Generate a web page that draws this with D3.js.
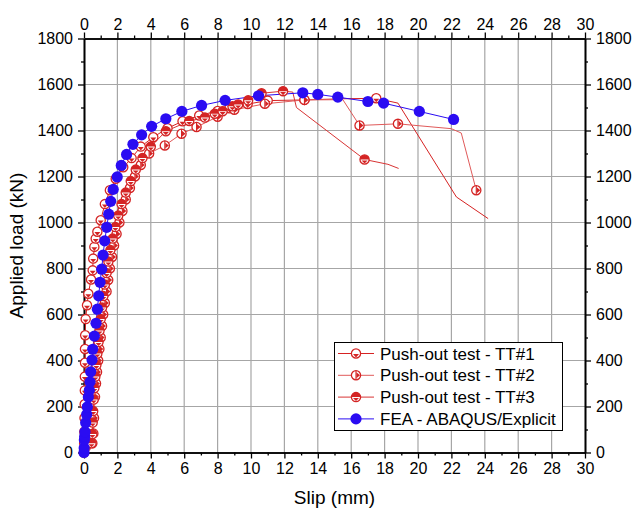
<!DOCTYPE html>
<html>
<head>
<meta charset="utf-8">
<script src="https://cdn.jsdelivr.net/npm/d3@7"></script>
<style>
  body { margin: 0; background: #fff; }
  svg { display: block; font-family: Arial, "Liberation Sans", sans-serif; }
</style>
</head>
<body>
<svg id="chart" width="638" height="513"></svg>
<script>
(() => {
    // tick values
    const slipTicks = [0, 2, 4, 6, 8, 10, 12, 14, 16, 18, 20, 22, 24, 26, 28, 30];
    const slipMinor = [1, 3, 5, 7, 9, 11, 13, 15, 17, 19, 21, 23, 25, 27, 29];
    const loadTicks = [0, 200, 400, 600, 800, 1000, 1200, 1400, 1600, 1800];
    const loadMinor = [100, 300, 500, 700, 900, 1100, 1300, 1500, 1700];

    // FEA - ABAQUS/Explicit
    const feaSlip = [0, 0.01, 0.02, 0.04, 0.06, 0.1, 0.16, 0.2, 0.26, 0.32, 0.36, 0.4, 0.48, 0.52, 0.62, 0.72, 0.8, 0.88, 0.96, 1.06, 1.14, 1.24, 1.36, 1.48, 1.6, 1.75, 1.99, 2.23, 2.55, 2.93, 3.45, 4.05, 4.9, 5.86, 7.04, 8.45, 10.45, 13.1, 14.0, 15.2, 17.0, 17.94, 20.08, 22.13];
    const feaLoad = [0, 20, 54, 70, 90, 129, 165, 198, 241, 271, 307, 351, 402, 449, 506, 562, 623, 681, 740, 797, 858, 920, 979, 1036, 1092, 1144, 1198, 1248, 1296, 1340, 1381, 1418, 1451, 1483, 1509, 1531, 1551, 1564, 1557, 1545, 1526, 1519, 1483, 1448];

    // Push-out test - TT#1
    const tt1Slip = [0, 0.01, 0.02, 0.03, 0.04, 0.05, 0.05, 0.06, 0.06, 0.07, 0.1, 0.18, 0.26, 0.42, 0.52, 0.55, 0.62, 0.7, 0.8, 1.0, 1.25, 1.55, 1.9, 2.35, 2.85, 3.4, 4.15, 5.0, 5.9, 6.9, 8.0, 8.7, 9.8, 11.0, 13.2, 15.5, 17.5, 18.8, 22.3, 24.2];
    const tt1Load = [0, 40, 90, 150, 210, 270, 330, 390, 450, 510, 580, 640, 690, 752, 792, 843, 894, 930, 960, 1010, 1080, 1140, 1190, 1240, 1280, 1330, 1371, 1410, 1440, 1465, 1485, 1497, 1515, 1530, 1533, 1538, 1540, 1519, 1111, 1017];
    const tt1Mark = [1, 1, 1, 1, 1, 1, 1, 1, 1, 1, 1, 1, 1, 1, 1, 1, 1, 1, 1, 1, 1, 1, 1, 1, 1, 1, 1, 1, 1, 1, 1, 1, 1, 1, 1, 0, 1, 0, 0, 0];

    // Push-out test - TT#2
    const tt2Slip = [0, 0.35, 0.5, 0.56, 0.6, 0.66, 0.72, 0.78, 0.85, 0.92, 1.0, 1.08, 1.15, 1.25, 1.35, 1.45, 1.55, 1.68, 1.8, 1.95, 2.12, 2.3, 2.5, 2.75, 3.05, 3.4, 3.9, 4.84, 5.84, 6.74, 8.0, 9.0, 10.83, 12.5, 13.2, 15.5, 16.5, 18.8, 21.99, 22.59, 23.49];
    const tt2Load = [0, 10, 40, 83, 150, 242, 300, 350, 400, 450, 500, 550, 600, 650, 700, 750, 800, 850, 900, 950, 1000, 1050, 1100, 1150, 1200, 1250, 1300, 1335, 1386, 1415, 1460, 1490, 1516, 1528, 1533, 1534, 1422, 1429, 1408, 1389, 1140];
    const tt2Mark = [0, 0, 1, 1, 1, 1, 1, 1, 1, 1, 1, 1, 1, 1, 1, 1, 1, 1, 1, 1, 1, 1, 1, 1, 1, 1, 1, 1, 1, 1, 1, 1, 1, 0, 1, 0, 1, 1, 0, 0, 1];

    // Push-out test - TT#3
    const tt3Slip = [0, 0.3, 0.45, 0.5, 0.52, 0.55, 0.58, 0.62, 0.68, 0.74, 0.8, 0.87, 0.93, 1.0, 1.08, 1.16, 1.25, 1.35, 1.46, 1.58, 1.72, 1.88, 2.05, 2.25, 2.5, 2.8, 3.1, 3.5, 4.0, 4.9, 6.3, 7.24, 7.83, 8.3, 8.89, 9.23, 9.83, 10.63, 11.92, 12.5, 12.72, 16.8, 18.2, 18.84];
    const tt3Load = [0, 10, 40, 80, 130, 180, 230, 280, 330, 380, 430, 480, 530, 580, 630, 680, 730, 780, 830, 880, 930, 980, 1030, 1080, 1130, 1180, 1230, 1280, 1330, 1397, 1441, 1456, 1473, 1484, 1505, 1513, 1531, 1562, 1571, 1567, 1500, 1274, 1253, 1235];
    const tt3Mark = [0, 0, 1, 1, 1, 1, 1, 1, 1, 1, 1, 1, 1, 1, 1, 1, 1, 1, 1, 1, 1, 1, 1, 1, 1, 1, 1, 1, 1, 1, 1, 1, 1, 1, 1, 1, 1, 1, 1, 0, 0, 1, 0, 0];

    const legendLabels = ["Push-out test - TT#1", "Push-out test - TT#2", "Push-out test - TT#3", "FEA - ABAQUS/Explicit"];

    const red = "#d42424";
    const blue = "#2a0cf2";

    const svg = d3.select("#chart");
    const margin = { top: 38.5, right: 53, bottom: 60.5, left: 84 };
    const W = 638, H = 513;
    const x = d3.scaleLinear().domain([0, 30]).range([margin.left, W - margin.right]);
    const y = d3.scaleLinear().domain([0, 1800]).range([H - margin.bottom, margin.top]);
    const fmt = d3.format("d");

    // grid
    const grid = svg.append("g").attr("stroke", "#a6a6a6").attr("stroke-width", 1.2);
    slipTicks.slice(1, -1).forEach(v => {
        grid.append("line").attr("x1", x(v)).attr("x2", x(v)).attr("y1", y(0)).attr("y2", y(1800));
    });
    loadTicks.slice(1, -1).forEach(v => {
        grid.append("line").attr("x1", x(0)).attr("x2", x(30)).attr("y1", y(v)).attr("y2", y(v));
    });

    // axes
    function styleAxis(g) {
        g.select(".domain").attr("stroke-width", 1.6);
        g.selectAll(".tick line").attr("stroke-width", 1.3);
        g.selectAll("text").attr("font-size", 16).attr("fill", "#000")
            .attr("font-family", "Arial, 'Liberation Sans', sans-serif");
    }
    const yb = y(0), yt = y(1800);
    svg.append("g").attr("transform", `translate(0,${yb})`)
        .call(d3.axisBottom(x).tickValues(slipTicks).tickFormat(fmt).tickSize(6).tickPadding(4).tickSizeOuter(0)).call(styleAxis);
    svg.append("g").attr("transform", `translate(0,${yb})`)
        .call(d3.axisBottom(x).tickValues(slipMinor).tickSize(3).tickFormat("").tickSizeOuter(0)).call(styleAxis);
    svg.append("g").attr("transform", `translate(0,${yt})`)
        .call(d3.axisTop(x).tickValues(slipTicks).tickFormat(fmt).tickSize(6).tickPadding(3).tickSizeOuter(0)).call(styleAxis);
    svg.append("g").attr("transform", `translate(0,${yt})`)
        .call(d3.axisTop(x).tickValues(slipMinor).tickSize(3).tickFormat("").tickSizeOuter(0)).call(styleAxis);
    svg.append("g").attr("transform", `translate(${x(0)},0)`)
        .call(d3.axisLeft(y).tickValues(loadTicks).tickFormat(fmt).tickSize(6).tickPadding(5).tickSizeOuter(0)).call(styleAxis);
    svg.append("g").attr("transform", `translate(${x(0)},0)`)
        .call(d3.axisLeft(y).tickValues(loadMinor).tickSize(3).tickFormat("").tickSizeOuter(0)).call(styleAxis);
    svg.append("g").attr("transform", `translate(${x(30)},0)`)
        .call(d3.axisRight(y).tickValues(loadTicks).tickFormat(fmt).tickSize(6).tickPadding(5).tickSizeOuter(0)).call(styleAxis);
    svg.append("g").attr("transform", `translate(${x(30)},0)`)
        .call(d3.axisRight(y).tickValues(loadMinor).tickSize(3).tickFormat("").tickSizeOuter(0)).call(styleAxis);

    // axis titles
    svg.append("text").attr("x", (x(0) + x(30)) / 2).attr("y", 504)
        .attr("text-anchor", "middle").attr("font-size", 19).text("Slip (mm)");
    svg.append("text").attr("transform", `translate(23,${(y(0) + y(1800)) / 2}) rotate(-90)`)
        .attr("text-anchor", "middle").attr("font-size", 19).text("Applied load (kN)");

    // markers
    const R = 4.6;
    function marker(g, type) {
        if (type === "fea") {
            g.append("circle").attr("r", 5.6).attr("fill", blue);
            return;
        }
        g.append("circle").attr("r", R).attr("fill", "#fff").attr("stroke", red).attr("stroke-width", 1.3);
        if (type === "tt1") {
            g.append("path").attr("d", "M-3,0.4L3,0.4L0,4Z").attr("fill", red);
        } else if (type === "tt2") {
            g.append("line").attr("y1", -R).attr("y2", R).attr("stroke", red).attr("stroke-width", 1.1);
            g.append("path").attr("d", "M0.4,-3L0.4,3L4,0Z").attr("fill", red);
        } else {
            g.append("path").attr("d", `M${-R},0A${R},${R} 0 0 1 ${R},0Z`).attr("fill", red);
            g.append("path").attr("d", "M-3,0.9L3,0.9L0,4Z").attr("fill", red);
        }
    }

    const series = [
        { slip: tt1Slip, load: tt1Load, mark: tt1Mark, type: "tt1", color: "#d62222", lw: 1 },
        { slip: tt2Slip, load: tt2Load, mark: tt2Mark, type: "tt2", color: "#e05a5a", lw: 1 },
        { slip: tt3Slip, load: tt3Load, mark: tt3Mark, type: "tt3", color: "#d83434", lw: 1 },
        { slip: feaSlip, load: feaLoad, mark: null, type: "fea", color: blue, lw: 1 }
    ];

    const line = d3.line().x(d => x(d[0])).y(d => y(d[1]));
    series.forEach(s => {
        const pts = s.slip.map((v, i) => [v, s.load[i]]);
        svg.append("path").datum(pts).attr("d", line)
            .attr("fill", "none").attr("stroke", s.color).attr("stroke-width", s.lw);
    });
    series.forEach(s => {
        s.slip.forEach((v, i) => {
            if (s.mark && !s.mark[i]) return;
            const g = svg.append("g").attr("transform", `translate(${x(v)},${y(s.load[i])})`);
            marker(g, s.type);
        });
    });

    // legend
    const lg = svg.append("g");
    lg.append("rect").attr("x", 334.5).attr("y", 342.5).attr("width", 228).attr("height", 88)
        .attr("fill", "#fff").attr("stroke", "#000").attr("stroke-width", 1);
    legendLabels.forEach((lab, i) => {
        const ly = 353.5 + i * 21.8;
        const s = series[i];
        lg.append("line").attr("x1", 338).attr("x2", 374).attr("y1", ly).attr("y2", ly)
            .attr("stroke", s.color).attr("stroke-width", 1);
        marker(lg.append("g").attr("transform", `translate(356,${ly})`), s.type);
        lg.append("text").attr("x", 380).attr("y", ly + 6).attr("font-size", 17).text(lab);
    });
})();
</script>
</body>
</html>
